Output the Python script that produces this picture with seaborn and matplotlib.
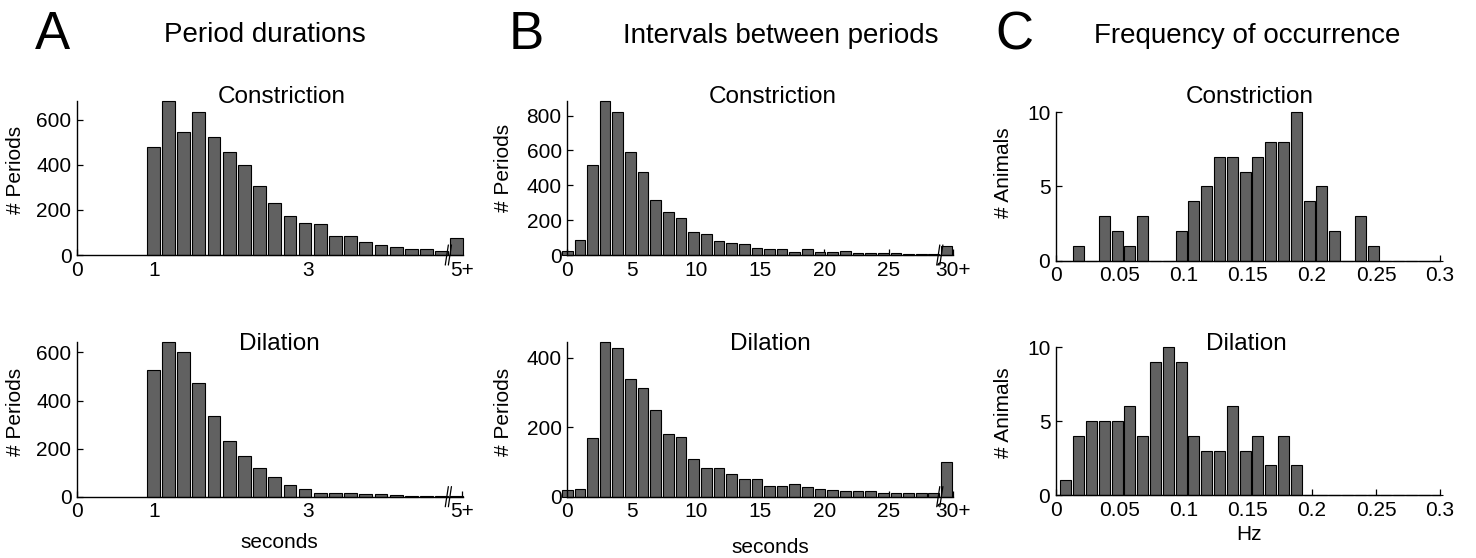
import numpy as np
import pandas as pd
import seaborn as sns
from matplotlib import pyplot as plt

# bin centres of each histogram (x axis positions)
dur_bins = np.linspace(0.99, 4.93, 21)
ibi_bins = np.linspace(0, 29.5, 31)
freq_bins = np.linspace(0.0078, 0.2978, 30)

# counts
dur_constriction = [479, 682, 544, 635, 522, 459, 400, 307, 232, 174, 144,
                    138, 85, 85, 57, 43, 37, 25, 25, 16, 74]
dur_dilation = [527, 643, 603, 473, 337, 230, 171, 121, 80, 47, 34,
                17, 17, 17, 11, 11, 5, 1, 4, 1, 2]
ibi_constriction = [25, 86, 518, 884, 821, 592, 474, 316, 248, 213, 130,
                    122, 80, 67, 61, 38, 32, 32, 17, 32, 17, 17, 25, 11,
                    11, 11, 11, 6, 6, 6, 53]
ibi_dilation = [19, 23, 169, 445, 428, 340, 312, 250, 180, 173, 110, 82,
                82, 65, 51, 51, 30, 30, 37, 27, 23, 19, 15, 15, 15, 12,
                10, 10, 12, 10, 100]
freq_constriction = [0, 1, 0, 3, 2, 1, 3, 0, 0, 2, 4, 5, 7, 7, 6, 7, 8, 8,
                     10, 4, 5, 2, 0, 3, 1, 0, 0, 0, 0, 0]
freq_dilation = [1, 4, 5, 5, 5, 6, 4, 9, 10, 9, 4, 3, 3, 6, 3, 4, 2, 4, 2,
                 0, 0, 0, 0, 0, 0, 0, 0, 0, 0, 0]

dur_ticks = [0, 1, 3, 5]
dur_ticklabels = ['0', '1', '3', '5+']
ibi_ticks = [0, 5, 10, 15, 20, 25, 30]
ibi_ticklabels = ['0', '5', '10', '15', '20', '25', '30+']
freq_ticks = [0, 0.05, 0.1, 0.15, 0.2, 0.25, 0.3]
freq_ticklabels = ['0', '0.05', '0.1', '0.15', '0.2', '0.25', '0.3']

sns.set_style('ticks')
plt.rcParams['font.family'] = ['Liberation Sans', 'DejaVu Sans']
plt.rcParams['xtick.direction'] = 'in'
plt.rcParams['ytick.direction'] = 'in'
plt.rcParams['text.color'] = 'black'
plt.rcParams['axes.labelcolor'] = 'black'
plt.rcParams['xtick.color'] = 'black'
plt.rcParams['ytick.color'] = 'black'

BAR = '#616161'
TICK_FS = 15
LAB_FS = 15
TITLE_FS = 17.5


def hist_panel(ax, centers, counts, width, ylim, xlim, xticks, xticklabels,
               yticks, ylabel, title, title_xy, ylab_xy, brk=None):
    df = pd.DataFrame({'x': centers, 'n': counts})
    sns.barplot(data=df, x='x', y='n', native_scale=True, width=width,
                color=BAR, saturation=1, edgecolor='black', linewidth=0.8,
                errorbar=None, ax=ax)
    for p in ax.patches:
        p.set_clip_on(False)
    ax.set_xlim(*xlim)
    ax.set_ylim(*ylim)
    ax.set_xticks(xticks)
    ax.set_xticklabels(xticklabels, fontsize=TICK_FS)
    ax.set_yticks(yticks)
    ax.set_yticklabels([str(t) for t in yticks], fontsize=TICK_FS)
    ax.tick_params(length=4, width=0.9, pad=4, colors='black')
    sns.despine(ax=ax)
    for s in ['left', 'bottom']:
        ax.spines[s].set_linewidth(1.0)
        ax.spines[s].set_color('black')
    ax.set_xlabel('')
    ax.set_ylabel(ylabel, fontsize=LAB_FS)
    ax.yaxis.set_label_coords(*ylab_xy)
    ax.text(title_xy[0], title_xy[1], title, transform=ax.transAxes,
            ha='center', va='center', fontsize=TITLE_FS)
    if brk is not None:
        # axis break marks "//"
        for dx in (0.0, 0.008):
            ax.plot([brk + dx - 0.004, brk + dx + 0.004], [-0.065, 0.065],
                    transform=ax.transAxes, color='black', lw=0.9,
                    clip_on=False)


fig = plt.figure(figsize=(14.76, 5.58), dpi=100)

axA1 = fig.add_axes([0.0522, 0.543, 0.2615, 0.2765])
axA2 = fig.add_axes([0.0522, 0.1099, 0.2615, 0.2778])
axB1 = fig.add_axes([0.3843, 0.543, 0.2613, 0.2765])
axB2 = fig.add_axes([0.3843, 0.1099, 0.2613, 0.2778])
axC1 = fig.add_axes([0.7154, 0.5328, 0.2602, 0.266])
axC2 = fig.add_axes([0.7154, 0.1129, 0.2602, 0.2652])

hist_panel(axA1, dur_bins, dur_constriction, 0.84, (0, 685), (0, 5.01),
           dur_ticks, dur_ticklabels, [0, 200, 400, 600], '# Periods',
           'Constriction', (0.531, 1.024), (-0.135, 0.55), brk=0.958)
hist_panel(axA2, dur_bins, dur_dilation, 0.84, (0, 645), (0, 5.01),
           dur_ticks, dur_ticklabels, [0, 200, 400, 600], '# Periods',
           'Dilation', (0.523, 0.988), (-0.135, 0.546), brk=0.958)
hist_panel(axB1, ibi_bins, ibi_constriction, 0.845, (0, 885), (0, 30),
           ibi_ticks, ibi_ticklabels, [0, 200, 400, 600, 800], '# Periods',
           'Constriction', (0.533, 1.024), (-0.141, 0.564), brk=0.962)
hist_panel(axB2, ibi_bins, ibi_dilation, 0.845, (0, 447), (0, 30),
           ibi_ticks, ibi_ticklabels, [0, 200, 400], '# Periods',
           'Dilation', (0.528, 0.985), (-0.141, 0.546), brk=0.962)
hist_panel(axC1, freq_bins, freq_constriction, 0.86, (0, 10), (0, 0.3),
           freq_ticks, freq_ticklabels, [0, 5, 10], '# Animals',
           'Constriction', (0.505, 1.103), (-0.112, 0.594))
hist_panel(axC2, freq_bins, freq_dilation, 0.86, (0, 10), (0, 0.3),
           freq_ticks, freq_ticklabels, [0, 5, 10], '# Animals',
           'Dilation', (0.497, 1.02), (-0.112, 0.554))

axA2.set_xlabel('seconds', fontsize=LAB_FS)
axA2.xaxis.set_label_coords(0.523, -0.234)
axB2.set_xlabel('seconds', fontsize=LAB_FS)
axB2.xaxis.set_label_coords(0.526, -0.266)
axC2.set_xlabel('Hz', fontsize=LAB_FS)
axC2.xaxis.set_label_coords(0.503, -0.203)

# panel letters and headers
fig.text(0.0237, 0.912, 'A', fontsize=38, va='baseline', ha='left')
fig.text(0.1792, 0.9247, 'Period durations', fontsize=20, va='baseline', ha='center')
fig.text(0.3449, 0.912, 'B', fontsize=38, va='baseline', ha='left')
fig.text(0.5291, 0.923, 'Intervals between periods', fontsize=20, va='baseline', ha='center')
fig.text(0.6741, 0.912, 'C', fontsize=38, va='baseline', ha='left')
fig.text(0.8452, 0.923, 'Frequency of occurrence', fontsize=20, va='baseline', ha='center')

fig.savefig('out.png', dpi=100, facecolor='white')
